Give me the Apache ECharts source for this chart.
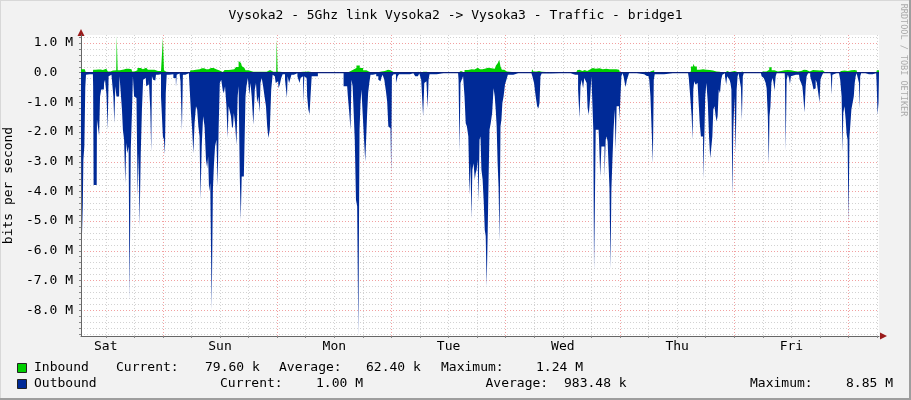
<!DOCTYPE html>
<html><head><meta charset="utf-8">
<script src="https://cdn.jsdelivr.net/npm/echarts@6/dist/echarts.min.js"></script>
<style>html,body{margin:0;padding:0;background:#F2F2F2}#c{width:911px;height:400px}</style>
</head><body><div id="c"></div>
<script>
// ---- texts ----
const titleText = 'Vysoka2 - 5Ghz link Vysoka2 -> Vysoka3 - Traffic - bridge1';
const yAxisTitle = 'bits per second';
const watermark = 'RRDTOOL / TOBI OETIKER';
// x axis: hours since Sun 00:00
const dayLabels = ['Sat', 'Sun', 'Mon', 'Tue', 'Wed', 'Thu', 'Fri'];
const dayLabelHours = [-12, 12, 36, 60, 84, 108, 132];
const xStartHour = -17.2;
const xEndHour = 150.4;
// y axis (Mbit/s)
const yTickMbps = [-8, -7, -6, -5, -4, -3, -2, -1, 0, 1];
const yMinMbps = -8.87;
const yMaxMbps = 1.27;
// legend
const seriesNames = ['Inbound', 'Outbound'];
const currentText = ['79.60 k', '1.00 M'];
const averageText = ['62.40 k', '983.48 k'];
const maximumText = ['1.24 M', '8.85 M'];

// ---- data (Mbit/s; outbound drawn below zero) ----
const inboundHours = [-17.3,-16.4,-16.1,-15.7,-14.7,-14.6,-13.6,-12.6,-11.9,-11.2,-10.8,-10.5,-9.8,-9.6,-9.4,-8.7,-7.7,-6.6,-6.3,-5.6,-5.1,-4.2,-3.5,-2.8,-2.1,-1.4,-0.7,-0.1,0.1,0.35,0.7,1.05,5.6,6.0,6.6,7.3,8.2,9.1,10.1,11.2,11.9,12.6,13.3,14.3,15.0,15.7,16.1,16.4,16.8,17.1,17.6,18.3,19.7,21.1,22.5,23.2,23.8,24.0,24.2,24.9,28.1,28.4,29.5,30.5,31.2,31.5,38.6,38.9,39.6,40.3,41.0,41.7,42.4,43.1,43.6,44.9,45.4,45.9,46.6,47.3,47.8,48.2,48.7,53.1,53.4,53.8,54.1,54.7,55.4,56.1,56.4,62.0,62.2,62.6,63.0,63.7,64.5,65.2,65.7,66.6,67.6,68.3,69.0,69.7,70.2,70.5,70.8,71.0,71.4,72.0,72.5,77.4,77.7,78.0,78.5,79.0,79.4,79.7,86.8,87.2,87.5,88.1,88.6,89.1,89.6,90.3,90.9,91.7,92.4,93.1,93.8,94.5,95.2,95.8,96.3,100.8,101.1,101.7,102.3,103.0,103.4,110.3,110.6,111.2,111.5,111.9,112.4,113.1,113.8,114.5,115.2,115.9,116.6,117.3,117.8,118.3,118.7,119.4,119.7,120.1,120.4,120.9,121.5,121.8,122.2,125.3,125.7,126.4,127.1,127.6,128.1,128.8,129.5,130.2,130.9,131.6,132.3,133.0,133.7,134.4,134.9,135.5,136.2,136.9,137.6,138.3,138.8,139.2,140.0,140.4,140.7,141.1,141.8,142.1,142.8,143.5,144.2,145.0,145.5,146.0,149.8,150.1,150.4];
const inboundMbps = [0.12,0.12,0.03,0,0,0.10,0.11,0.09,0.13,0.04,0,0.07,0.08,1.24,0.08,0.11,0.13,0.12,0.04,0.08,0.16,0.12,0.17,0.10,0.10,0.06,0.06,0.08,1.17,0.08,0.03,0,0,0.08,0.10,0.12,0.15,0.12,0.16,0.12,0.07,0.02,0.09,0.10,0.12,0.19,0.39,0.33,0.22,0.17,0.08,0.03,0.03,0.03,0.09,0.03,0.03,1.13,0.03,0,0,0.02,0.03,0.04,0.02,0,0,0.04,0.10,0.16,0.24,0.16,0.08,0.03,0,0,0.02,0.04,0.06,0.10,0.08,0.02,0,0,0.03,0.01,0,0.03,0.03,0.01,0,0,0.06,0.06,0.01,0.09,0.12,0.11,0.17,0.12,0.13,0.17,0.15,0.13,0.24,0.33,0.44,0.21,0.10,0.04,0,0,0.12,0.04,0.04,0.06,0.03,0,0,0.08,0.10,0.06,0.09,0.06,0.10,0.16,0.13,0.15,0.12,0.13,0.12,0.12,0.12,0.10,0,0,0.03,0.01,0.06,0.08,0,0,0.04,0.21,0.30,0.21,0.10,0.12,0.10,0.09,0.07,0.04,0.03,0.01,0,0.06,0.02,0.04,0.08,0.06,0.02,0,0.04,0.01,0,0,0.04,0.04,0.10,0.18,0.08,0.04,0.06,0.08,0.09,0.08,0.06,0.04,0.06,0.10,0.09,0.04,0.09,0.08,0.07,0.08,0.02,0,0,0.04,0.01,0,0,0.06,0.07,0.06,0.08,0.09,0.07,0,0,0.08,0.08];

const outboundHours = [-17.3,-17.0,-16.8,-16.6,-16.4,-16.2,-16.1,-15.4,-14.7,-14.6,-14.5,-13.9,-13.8,-13.5,-13.3,-13.1,-12.8,-12.4,-12.3,-12.0,-11.7,-11.5,-11.3,-10.8,-10.5,-10.3,-10.1,-9.9,-9.6,-9.2,-9.0,-8.7,-8.5,-8.3,-8.0,-7.8,-7.6,-7.3,-7.1,-6.9,-6.6,-6.4,-6.2,-5.9,-5.7,-5.4,-5.2,-5.0,-4.8,-4.5,-4.3,-4.0,-3.6,-3.4,-3.1,-2.8,-2.5,-2.4,-2.2,-1.9,-1.6,-1.3,-0.7,-0.1,0.1,0.35,0.5,0.7,0.9,1.7,2.7,2.8,3.0,3.5,3.9,4.1,4.3,5.1,5.8,6.0,6.3,6.5,6.8,7.1,7.3,7.6,7.8,8.0,8.3,8.6,8.9,9.2,9.4,9.6,9.8,10.1,10.4,10.6,10.8,11.1,11.4,11.6,11.8,12.1,12.4,12.7,12.9,13.2,13.5,13.7,13.9,14.2,14.4,14.6,14.8,15.0,15.3,15.6,15.8,16.0,16.3,16.4,16.7,17.3,17.4,17.7,18.0,18.3,18.5,18.8,19.2,19.4,19.7,19.9,20.2,20.4,20.6,20.9,21.2,21.5,21.8,22.0,22.3,22.6,22.9,23.2,23.5,23.9,24.2,24.4,24.7,25.0,25.3,26.0,26.1,26.3,26.7,26.9,27.1,27.9,28.6,28.8,29.0,29.3,29.6,29.8,30.2,30.4,30.7,30.9,31.1,31.4,33.7,37.2,38.7,39.0,39.3,39.5,39.7,40.0,40.2,40.4,40.7,40.9,41.2,41.4,41.6,41.8,42.1,42.4,42.6,42.8,43.0,43.2,43.5,43.7,44.5,45.1,45.4,45.7,46.0,46.3,46.7,47.0,47.2,47.5,47.7,47.9,48.0,48.2,48.7,49.2,49.4,49.8,51.2,52.6,53.4,53.7,54.0,54.5,54.8,55.0,55.2,55.5,55.7,55.9,56.1,58.9,62.0,62.2,62.4,62.6,62.9,63.2,63.5,63.7,64.0,64.3,64.5,64.7,64.9,65.1,65.4,65.6,65.8,66.0,66.2,66.4,66.6,66.8,67.0,67.3,67.5,67.7,67.9,68.1,68.3,68.5,68.7,69.0,69.3,69.6,69.8,70.0,70.2,70.4,70.6,70.8,71.0,71.2,71.4,71.7,72.0,72.3,72.6,74.6,77.4,77.8,78.1,78.5,78.7,79.0,79.2,79.4,79.7,83.3,84.7,86.6,87.0,87.4,87.6,87.8,88.1,88.4,88.6,88.9,89.1,89.3,89.6,89.9,90.1,90.3,90.5,90.6,90.8,91.0,91.3,91.5,91.7,92.0,92.2,92.4,92.6,92.9,93.1,93.3,93.5,93.7,93.9,94.1,94.3,94.5,94.8,95.0,95.2,95.4,95.8,96.0,96.2,96.4,96.6,96.9,97.1,97.3,97.6,97.8,98.0,101.1,101.4,101.7,102.0,102.3,102.5,102.8,103.0,103.2,103.4,107.1,110.3,110.6,110.9,111.2,111.3,111.5,111.7,112.0,112.3,112.6,112.9,113.1,113.3,113.6,113.8,114.0,114.3,114.6,114.8,115.1,115.3,115.5,115.7,116.0,116.2,116.4,116.6,116.9,117.1,117.4,117.6,117.9,118.2,118.4,118.6,118.9,119.1,119.3,119.5,119.7,119.9,120.2,120.4,120.6,120.8,121.0,121.3,121.5,121.7,121.9,122.1,125.6,125.9,126.2,126.5,126.7,126.9,127.2,127.3,127.5,127.7,127.9,128.1,128.3,128.6,128.8,129.0,130.6,130.7,130.9,131.1,131.4,131.6,131.8,132.0,132.3,133.6,133.9,134.2,134.4,134.6,134.9,135.1,135.3,135.7,136.2,136.5,136.8,137.0,137.2,137.5,137.8,138.0,138.2,138.5,138.8,140.2,140.4,140.5,140.7,140.9,142.0,142.1,142.4,142.7,142.8,143.0,143.3,143.5,143.7,143.9,144.1,144.3,144.5,144.7,145.0,145.2,145.4,145.6,145.8,146.1,146.3,146.4,146.5,146.8,148.3,149.8,150.0,150.2,150.4];
const outboundMbps = [-1.08,-1.08,-5.43,-2.93,-2.48,-0.5,-0.07,-0.05,-0.05,-0.46,-3.78,-3.78,-1.58,-1.58,-2.12,-0.80,-0.57,-0.57,-0.35,-0.24,-0.74,-1.92,-0.12,-0.07,-0.07,-0.80,-1.70,-0.46,-0.80,-0.80,-0.12,-0.07,-1.24,-1.92,-2.26,-3.72,-2.37,-2.71,-2.49,-7.65,-2.60,-1.36,-0.12,-0.80,-0.85,-0.91,-4.17,-2.71,-5.18,-2.71,-1.24,-0.24,-0.18,-0.46,-0.40,-0.24,-1.24,-2.65,-0.12,-0.24,-0.26,-0.07,-0.05,-0.80,-2.15,-2.26,-2.76,-0.69,-0.07,-0.05,-0.18,-0.48,-0.07,-0.03,-0.30,-1.94,-0.07,-0.02,-0.02,-1.36,-1.92,-2.71,-1.70,-1.13,-1.24,-1.80,-2.15,-4.28,-2.49,-1.47,-1.80,-2.93,-3.20,-2.82,-4.00,-3.72,-7.99,-3.95,-3.16,-2.49,-2.26,-3.83,-1.92,-0.35,-0.24,-0.57,-0.69,-0.46,-1.13,-2.20,-1.13,-1.30,-1.47,-1.80,-1.87,-1.36,-1.70,-2.43,-0.80,-0.46,-3.50,-4.96,-3.50,-3.55,-0.80,-0.46,-0.18,-0.74,-0.35,-0.80,-1.75,-0.57,-0.35,-1.02,-0.80,-1.34,-0.35,-0.18,-0.46,-0.80,-1.13,-1.80,-2.20,-1.92,-0.57,-0.07,-0.12,-0.35,-0.29,-0.52,-0.40,-0.18,-0.05,-0.24,-0.85,-0.12,-0.35,-0.35,-0.07,-0.02,-0.12,-0.35,-0.18,-0.12,-1.02,-0.12,-0.18,-0.80,-1.24,-1.40,-0.80,-0.12,-0.02,-0.02,-0.46,-0.80,-1.36,-1.92,-0.24,-0.46,-1.47,-2.26,-4.28,-4.50,-8.85,-1.92,-1.02,-0.57,-1.36,-2.26,-2.99,-3.05,-1.36,-0.69,-0.35,-0.07,-0.04,-0.12,-0.24,-0.29,-0.18,-0.07,-0.24,-0.63,-0.97,-1.81,-1.87,-1.92,-3.38,-0.12,-0.05,-0.35,-0.12,-0.05,-0.05,-0.02,-0.12,-0.10,-0.03,-0.24,-1.47,-0.35,-0.29,-0.35,-1.19,-0.24,-0.05,-0.02,-0.02,-0.24,-2.65,-0.35,-0.24,-0.12,-0.80,-1.70,-1.81,-2.15,-4.11,-3.05,-4.90,-3.27,-3.05,-3.60,-3.38,-3.27,-2.93,-4.34,-2.26,-2.15,-3.27,-3.60,-4.40,-5.30,-5.50,-7.20,-5.50,-3.60,-1.92,-1.70,-1.36,-0.52,-0.80,-1.24,-1.81,-3.05,-3.83,-5.69,-1.81,-1.58,-1.02,-0.80,-0.40,-0.24,-0.07,-0.02,-0.02,-0.12,-0.35,-0.80,-1.13,-1.21,-1.02,-0.12,-0.03,-0.02,-0.02,-0.07,-0.07,-0.57,-1.53,-0.46,-0.24,-0.52,-0.18,-0.12,-0.35,-1.19,-1.42,-0.80,-0.12,-1.02,-1.92,-6.64,-4.85,-1.92,-1.92,-1.92,-2.26,-3.49,-2.49,-2.43,-2.49,-3.55,-2.26,-2.15,-2.32,-2.37,-3.90,-6.58,-3.90,-3.00,-1.92,-1.24,-2.60,-1.13,-1.13,-1.58,-0.80,-0.12,-0.02,-0.12,-0.35,-0.48,-0.24,-0.12,-0.02,-0.05,-0.10,-0.07,-0.12,-0.24,-0.80,-1.92,-3.05,-0.24,-0.05,-0.02,-0.02,-0.18,-0.80,-1.47,-2.26,-0.57,-0.29,-0.40,-0.35,-0.80,-1.70,-2.15,-2.15,-3.60,-2.26,-0.80,-0.35,-1.02,-2.15,-2.88,-2.49,-2.15,-1.24,-1.13,-1.47,-1.64,-1.47,-0.57,-0.69,-0.24,-0.07,-0.02,-0.12,-0.40,-0.12,-0.07,-0.24,-0.35,-0.57,-4.17,-1.92,-0.80,-2.71,-0.57,-0.12,-0.02,-0.02,-0.50,-1.60,-0.12,-0.02,-0.02,-0.12,-0.18,-0.12,-0.35,-0.52,-1.47,-3.08,-1.47,-1.13,-0.35,-0.18,-0.29,-0.60,-0.12,-0.02,-0.02,-0.24,-2.60,-0.24,-0.07,-0.18,-0.38,-0.12,-0.07,-0.07,-0.24,-0.35,-0.46,-0.80,-1.34,-0.46,-0.12,-0.02,-0.12,-0.35,-0.57,-0.52,-0.24,-0.35,-0.69,-1.00,-0.24,-0.12,-0.02,-0.02,-0.12,-0.74,-0.07,-0.02,-0.02,-0.05,-0.24,-0.80,-2.69,-1.36,-1.13,-1.58,-2.07,-2.26,-5.07,-2.15,-1.70,-1.24,-1.02,-0.80,-0.35,-0.12,-0.02,-0.05,-0.35,-1.21,-0.12,-0.02,-0.05,-0.02,-0.35,-1.42,-1.00];

// ---- layout / style ----
const FONT = '"DejaVu Sans Mono", monospace';
const G = { left: 81, right: 32, top: 35, bottom: 64 };
const W = 911, H = 400;
const GREEN = '#00CF00', BLUE = '#002A97';
const MINOR = '#D2D2D2', MAJOR = '#F2A0A0';

const xGridHours = [];
for (let h = -12; h <= 150; h += 6) xGridHours.push(h);
const yGridMbps = [];
for (let k = -44; k <= 6; k++) yGridMbps.push(Math.round(k * 2) / 10);

const pairs = (xs, ys) => xs.map((x, i) => [x, ys[i]]);

const chart = echarts.init(document.getElementById('c'), null, { renderer: 'canvas' });

const legendRows = [
  { y: 368, sq: 363.5, cols: [34, 116, 205, 279, 366, 441, 536] },
  { y: 384, sq: 379.5, cols: [34, 220, 316, 485.5, 564, 750, 846] }
];
const graphic = [
  { type: 'rect', shape: { x: 0, y: 0, width: W, height: 1 }, style: { fill: '#D8D8D8' }, silent: true },
  { type: 'rect', shape: { x: 0, y: 0, width: 1, height: H }, style: { fill: '#D8D8D8' }, silent: true },
  { type: 'rect', shape: { x: 0, y: H - 2, width: W, height: 2 }, style: { fill: '#9E9E9E' }, silent: true },
  { type: 'rect', shape: { x: W - 2, y: 0, width: 2, height: H }, style: { fill: '#9E9E9E' }, silent: true },
  { type: 'polygon', shape: { points: [[W - G.right + 1, H - G.bottom - 3.5], [W - G.right + 8, H - G.bottom], [W - G.right + 1, H - G.bottom + 3.5]] }, style: { fill: '#9A1B1B' }, silent: true },
  { type: 'polygon', shape: { points: [[G.left - 3.5, G.top + 1], [G.left, G.top - 6], [G.left + 3.5, G.top + 1]] }, style: { fill: '#9A1B1B' }, silent: true },
  { type: 'text', x: 903, y: 60, rotation: -Math.PI / 2, silent: true,
    style: { text: watermark, font: '8.5px ' + FONT, fill: '#ABABAB', align: 'center', verticalAlign: 'middle' } }
];
legendRows.forEach((r, i) => {
  graphic.push({ type: 'rect', shape: { x: 17.5, y: r.sq, width: 9, height: 9 },
    style: { fill: i === 0 ? GREEN : BLUE, stroke: '#222', lineWidth: 1 }, silent: true });
  const texts = [seriesNames[i], 'Current:', currentText[i], 'Average:', averageText[i], 'Maximum:', maximumText[i]];
  texts.forEach((t, j) => graphic.push({ type: 'text', x: r.cols[j], y: r.y, silent: true,
    style: { text: t, font: '13px ' + FONT, fill: '#000', align: 'left', verticalAlign: 'middle' } }));
});

chart.setOption({
  animation: false,
  backgroundColor: '#F2F2F2',
  title: { text: titleText, left: 'center', top: 4,
    textStyle: { fontFamily: FONT, fontSize: 13, fontWeight: 'normal', color: '#000' } },
  grid: { left: G.left, right: G.right, top: G.top, bottom: G.bottom, show: true, backgroundColor: '#FFFFFF', borderWidth: 0,
    containLabel: false, outerBoundsMode: 'none' },
  xAxis: {
    type: 'value', min: xStartHour, max: xEndHour,
    axisLine: { show: true, onZero: false, lineStyle: { color: '#666', width: 1 } },
    axisTick: { show: true, length: 2, customValues: xGridHours, lineStyle: { color: '#888' } },
    axisLabel: { customValues: dayLabelHours, margin: 4, fontFamily: FONT, fontSize: 13, color: '#000',
      formatter: v => dayLabels[dayLabelHours.indexOf(v)] },
    splitLine: { show: true, lineStyle: { color: [MINOR, MINOR, MAJOR, MINOR], type: [1, 2], width: 1 } }
  },
  yAxis: {
    type: 'value', min: yMinMbps, max: yMaxMbps,
    name: yAxisTitle, nameLocation: 'middle', nameGap: 61,
    nameTextStyle: { fontFamily: FONT, fontSize: 13, color: '#000' },
    axisLine: { show: true, onZero: false, lineStyle: { color: '#666', width: 1 } },
    axisTick: { show: true, length: 2, customValues: yGridMbps, lineStyle: { color: '#888' } },
    axisLabel: { customValues: yTickMbps, margin: 8, fontFamily: FONT, fontSize: 13, color: '#000',
      formatter: v => v === 0 ? '0.0  ' : v.toFixed(1) + ' M' },
    splitLine: { show: true, lineStyle: { color: [MINOR, MINOR, MINOR, MINOR, MAJOR], type: [1, 2], width: 1 } }
  },
  series: [
    { name: seriesNames[1], type: 'line', step: 'middle', data: pairs(outboundHours, outboundMbps),
      showSymbol: false, symbol: 'none', sampling: null, lineStyle: { width: 0 },
      areaStyle: { color: BLUE, opacity: 1 }, z: 2,
      markLine: { silent: true, symbol: 'none', label: { show: false }, animation: false,
        lineStyle: { color: '#0C1F7A', width: 1, type: 'solid' }, data: [{ yAxis: 0 }] } },
    { name: seriesNames[0], type: 'line', step: 'middle', data: pairs(inboundHours, inboundMbps),
      showSymbol: false, symbol: 'none', sampling: null, lineStyle: { width: 0 },
      areaStyle: { color: GREEN, opacity: 1 }, z: 3 }
  ],
  graphic: graphic
});
</script></body></html>
